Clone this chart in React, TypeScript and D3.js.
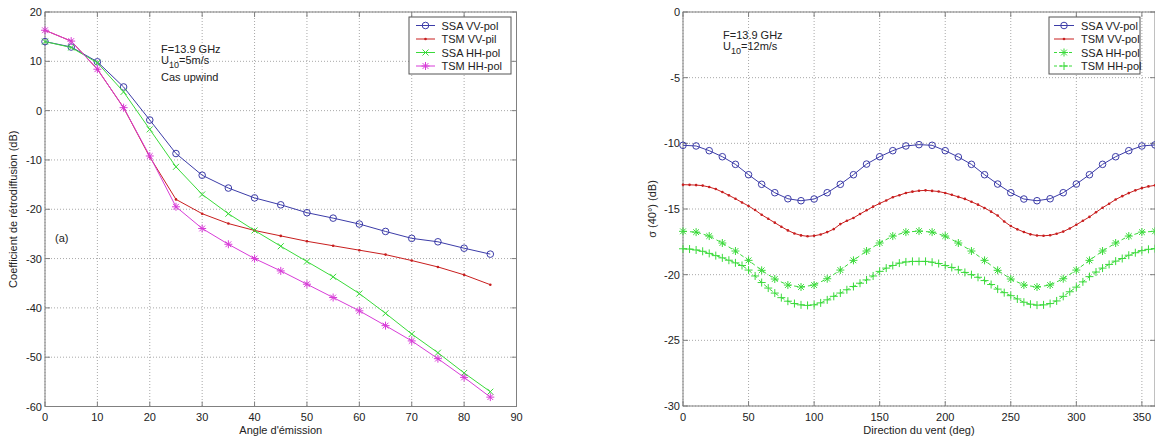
import React, { useEffect, useRef } from 'react';
import * as d3 from 'd3';

// (a) backscatter vs emission angle, U10 = 5 m/s
const angles = [0, 5, 10, 15, 20, 25, 30, 35, 40, 45, 50, 55, 60, 65, 70, 75, 80, 85];
const ssaVVa = [14, 12.9, 9.9, 4.8, -1.9, -8.7, -13.1, -15.7, -17.7, -19.1, -20.7, -21.8, -23.0, -24.5, -25.9, -26.6, -27.9, -29.1];
const tsmVVa = [16.3, 14.1, 8.4, 0.6, -9.4, -18.0, -20.9, -22.9, -24.3, -25.4, -26.5, -27.4, -28.3, -29.2, -30.4, -31.7, -33.3, -35.3];
const ssaHHa = [14, 12.8, 9.7, 3.8, -3.8, -11.4, -17.0, -20.9, -24.3, -27.5, -30.6, -33.7, -37.1, -41.1, -45.3, -49.1, -53.2, -57.0];
const tsmHHa = [16.3, 14.1, 8.4, 0.6, -9.2, -19.5, -23.9, -27.1, -30.0, -32.5, -35.2, -37.9, -40.6, -43.6, -46.7, -50.3, -54.1, -58.1];

// (b) sigma(40°) vs wind direction, U10 = 12 m/s
const dir10 = d3.range(0, 361, 10);
const dir5 = d3.range(0, 361, 5);
const ssaVVb = [-10.15, -10.2, -10.56, -11.02, -11.6, -12.39, -13.12, -13.76, -14.22, -14.37, -14.24, -13.76, -13.12, -12.39, -11.58, -11.02, -10.56, -10.2, -10.1,
  -10.15, -10.56, -11.04, -11.6, -12.39, -13.1, -13.76, -14.24, -14.37, -14.22, -13.76, -13.1, -12.39, -11.6, -11.02, -10.56, -10.2, -10.12];
const tsmVVb = [-13.15, -13.16, -13.18, -13.22, -13.33, -13.48, -13.71, -13.96, -14.22, -14.5, -14.77, -15.08, -15.44, -15.74, -16.04, -16.35, -16.63, -16.86, -17.01,
  -17.08, -17.04, -16.94, -16.76, -16.53, -16.15, -15.9, -15.68, -15.38, -15.1, -14.82, -14.58, -14.35, -14.1, -13.95, -13.78, -13.68, -13.61,
  -13.58, -13.62, -13.67, -13.78, -13.92, -14.08, -14.23, -14.45, -14.67, -14.92, -15.2, -15.5, -15.95, -16.3, -16.55, -16.75, -16.93, -17.02,
  -17.04, -17.0, -16.88, -16.72, -16.48, -16.2, -15.9, -15.6, -15.25, -14.9, -14.6, -14.28, -14.02, -13.79, -13.58, -13.41, -13.28, -13.2];
const ssaHHb = [-16.7, -16.76, -17.06, -17.59, -18.2, -18.91, -19.67, -20.33, -20.79, -20.94, -20.79, -20.31, -19.65, -18.91, -18.2, -17.59, -17.06, -16.76, -16.68,
  -16.76, -17.06, -17.59, -18.2, -18.91, -19.67, -20.33, -20.79, -20.94, -20.79, -20.31, -19.65, -18.91, -18.2, -17.59, -17.06, -16.76, -16.7];
const tsmHHb = [-18.03, -18.05, -18.12, -18.22, -18.38, -18.55, -18.72, -18.9, -19.1, -19.3, -19.65, -20.1, -20.6, -21.02, -21.4, -21.75, -22.02, -22.2, -22.3,
  -22.34, -22.3, -22.15, -21.92, -21.65, -21.4, -21.15, -20.9, -20.65, -20.4, -20.1, -19.75, -19.5, -19.3, -19.12, -19.03, -18.99, -18.99,
  -18.99, -19.05, -19.15, -19.3, -19.45, -19.63, -19.83, -20.0, -20.2, -20.45, -20.75, -21.1, -21.37, -21.6, -21.85, -22.1, -22.25, -22.32,
  -22.3, -22.2, -22.0, -21.65, -21.3, -20.95, -20.55, -20.15, -19.8, -19.5, -19.22, -18.97, -18.77, -18.52, -18.33, -18.17, -18.07, -18.02];

const ticksXa = [0, 10, 20, 30, 40, 50, 60, 70, 80, 90];
const ticksYa = [-60, -50, -40, -30, -20, -10, 0, 10, 20];
const ticksXb = [0, 50, 100, 150, 200, 250, 300, 350];
const ticksYb = [-30, -25, -20, -15, -10, -5, 0];

const BLUE = '#3c3ca8';
const RED = '#c81e1e';
const GREEN = '#3ada3a';
const MAGENTA = '#d83cd8';
const FONT = '"Liberation Sans", Arial, sans-serif';

type Sel = d3.Selection<SVGGElement, unknown, null, undefined>;

function marker(g: Sel, type: string, cx: number, cy: number, color: string) {
  if (type === 'o') {
    g.append('circle').attr('cx', cx).attr('cy', cy).attr('r', 3.3)
      .attr('fill', 'none').attr('stroke', color).attr('stroke-width', 1);
  } else if (type === '.') {
    g.append('circle').attr('cx', cx).attr('cy', cy).attr('r', 1.3).attr('fill', color);
  } else {
    const s = type === 'x' ? 3 : 4;
    const segs: number[][] = [];
    if (type === 'x' || type === '*') {
      const d = type === 'x' ? s : s * 0.72;
      segs.push([-d, -d, d, d], [-d, d, d, -d]);
    }
    if (type === '+' || type === '*') segs.push([-s, 0, s, 0], [0, -s, 0, s]);
    segs.forEach(([a, b, c, e]) => {
      g.append('line').attr('x1', cx + a).attr('y1', cy + b).attr('x2', cx + c).attr('y2', cy + e)
        .attr('stroke', color).attr('stroke-width', 1);
    });
  }
}

function panel(svg: any, x: d3.ScaleLinear<number, number>, y: d3.ScaleLinear<number, number>,
  xTicks: number[], yTicks: number[], xLabel: string, yLabel: string, yLabelX: number) {
  const g: Sel = svg.append('g');
  const [x0, x1] = x.range();
  const [yb, yt] = y.range();

  // dotted grid
  g.selectAll('.gx').data(xTicks).enter().append('line')
    .attr('x1', d => x(d)).attr('x2', d => x(d)).attr('y1', yt).attr('y2', yb)
    .attr('stroke', '#a8a8a8').attr('stroke-dasharray', '1,2');
  g.selectAll('.gy').data(yTicks).enter().append('line')
    .attr('x1', x0).attr('x2', x1).attr('y1', d => y(d)).attr('y2', d => y(d))
    .attr('stroke', '#a8a8a8').attr('stroke-dasharray', '1,2');

  // box
  g.append('rect').attr('x', x0).attr('y', yt).attr('width', x1 - x0).attr('height', yb - yt)
    .attr('fill', 'none').attr('stroke', '#808080');

  // inward ticks
  xTicks.forEach(t => {
    g.append('line').attr('x1', x(t)).attr('x2', x(t)).attr('y1', yb).attr('y2', yb - 5).attr('stroke', '#808080');
    g.append('line').attr('x1', x(t)).attr('x2', x(t)).attr('y1', yt).attr('y2', yt + 5).attr('stroke', '#808080');
  });
  yTicks.forEach(t => {
    g.append('line').attr('x1', x0).attr('x2', x0 + 5).attr('y1', y(t)).attr('y2', y(t)).attr('stroke', '#808080');
    g.append('line').attr('x1', x1).attr('x2', x1 - 5).attr('y1', y(t)).attr('y2', y(t)).attr('stroke', '#808080');
  });

  g.selectAll('.tx').data(xTicks).enter().append('text')
    .attr('x', d => x(d)).attr('y', yb + 14.5).attr('text-anchor', 'middle')
    .attr('font-family', FONT).attr('font-size', 11).attr('fill', '#222').text(d => d);
  g.selectAll('.ty').data(yTicks).enter().append('text')
    .attr('x', x0 - 3).attr('y', d => y(d) + 4).attr('text-anchor', 'end')
    .attr('font-family', FONT).attr('font-size', 11).attr('fill', '#222').text(d => d);

  g.append('text').attr('x', (x0 + x1) / 2).attr('y', 434).attr('text-anchor', 'middle')
    .attr('font-family', FONT).attr('font-size', 11).attr('fill', '#222').text(xLabel);
  g.append('text').attr('transform', `translate(${yLabelX},${(yt + yb) / 2}) rotate(-90)`)
    .attr('text-anchor', 'middle').attr('font-family', FONT).attr('font-size', 11).attr('fill', '#222').text(yLabel);
  return g;
}

function series(g: Sel, x: d3.ScaleLinear<number, number>, y: d3.ScaleLinear<number, number>,
  xs: number[], ys: number[], color: string, mk: string, dash?: string) {
  const pts: [number, number][] = xs.map((d, i) => [d, ys[i]]);
  const line = d3.line<[number, number]>().x(d => x(d[0])).y(d => y(d[1]));
  g.append('path').attr('d', line(pts) as string).attr('fill', 'none')
    .attr('stroke', color).attr('stroke-width', 1).attr('stroke-dasharray', dash || null);
  pts.forEach(p => marker(g, mk, x(p[0]), y(p[1]), color));
}

function legend(g: Sel, bx: number, by: number, bw: number, lx0: number, lx1: number, tx: number,
  items: { label: string; color: string; mk: string; dash?: string }[]) {
  g.append('rect').attr('x', bx).attr('y', by).attr('width', bw).attr('height', 57)
    .attr('fill', '#fff').attr('stroke', '#555');
  items.forEach((it, i) => {
    const cy = by + 8.5 + i * 13.5;
    g.append('line').attr('x1', lx0).attr('x2', lx1).attr('y1', cy).attr('y2', cy)
      .attr('stroke', it.color).attr('stroke-dasharray', it.dash || null);
    marker(g, it.mk, (lx0 + lx1) / 2, cy, it.color);
    g.append('text').attr('x', tx).attr('y', cy + 4).attr('font-family', FONT).attr('font-size', 11)
      .attr('fill', '#222').text(it.label);
  });
}

function annot(g: Sel, x: number, y: number, u: string) {
  g.append('text').attr('x', x).attr('y', y).attr('font-family', FONT).attr('font-size', 11)
    .attr('fill', '#222').text('F=13.9 GHz');
  const t = g.append('text').attr('x', x).attr('y', y + 11).attr('font-family', FONT).attr('font-size', 11).attr('fill', '#222');
  t.append('tspan').text('U');
  t.append('tspan').attr('dy', 4).attr('font-size', 9).text('10');
  t.append('tspan').attr('dy', -4).text(u);
}

const App = () => {
  const svgRef = useRef<SVGSVGElement>(null);

  useEffect(() => {
    const svg = d3.select(svgRef.current);
    svg.selectAll('*').remove();

    // left panel
    const xa = d3.scaleLinear().domain([0, 90]).range([45, 516.5]);
    const ya = d3.scaleLinear().domain([-60, 20]).range([406.5, 12]);
    const ga = panel(svg, xa, ya, ticksXa, ticksYa, "Angle d'émission", 'Coefficient de rétrodiffusion (dB)', 17);
    series(ga, xa, ya, angles, ssaVVa, BLUE, 'o');
    series(ga, xa, ya, angles, tsmVVa, RED, '.');
    series(ga, xa, ya, angles, ssaHHa, GREEN, 'x');
    series(ga, xa, ya, angles, tsmHHa, MAGENTA, '*');
    annot(ga, 161, 52.5, '=5m/s');
    ga.append('text').attr('x', 161, ).attr('y', 81).attr('font-family', FONT).attr('font-size', 11)
      .attr('fill', '#222').text('Cas upwind');
    ga.append('text').attr('x', 55).attr('y', 242).attr('font-family', FONT).attr('font-size', 11)
      .attr('fill', '#222').text('(a)');
    legend(ga, 409, 17, 102, 416, 435, 441.5, [
      { label: 'SSA VV-pol', color: BLUE, mk: 'o' },
      { label: 'TSM VV-pil', color: RED, mk: '.' },
      { label: 'SSA HH-pol', color: GREEN, mk: 'x' },
      { label: 'TSM HH-pol', color: MAGENTA, mk: '*' },
    ]);

    // right panel
    const xb = d3.scaleLinear().domain([0, 360]).range([683, 1155]);
    const yb = d3.scaleLinear().domain([-30, 0]).range([406, 12]);
    const gb = panel(svg, xb, yb, ticksXb, ticksYb, 'Direction du vent (deg)', 'σ (40°) (dB)', 656);
    series(gb, xb, yb, dir10, ssaVVb, BLUE, 'o');
    series(gb, xb, yb, dir5, tsmVVb, RED, '.');
    series(gb, xb, yb, dir10, ssaHHb, GREEN, '*', '4,3');
    series(gb, xb, yb, dir5, tsmHHb, GREEN, '+', '4,3');
    annot(gb, 723, 39, '=12m/s');
    legend(gb, 1049, 17, 91, 1054, 1074, 1081, [
      { label: 'SSA VV-pol', color: BLUE, mk: 'o' },
      { label: 'TSM VV-pol', color: RED, mk: '.' },
      { label: 'SSA HH-pol', color: GREEN, mk: '*', dash: '3,2' },
      { label: 'TSM HH-pol', color: GREEN, mk: '+', dash: '3,2' },
    ]);
  }, []);

  return (
    <svg ref={svgRef} width={1155} height={436}
      style={{ position: 'absolute', left: 0, top: 0, background: '#fff', display: 'block' }} />
  );
};

export default App;
